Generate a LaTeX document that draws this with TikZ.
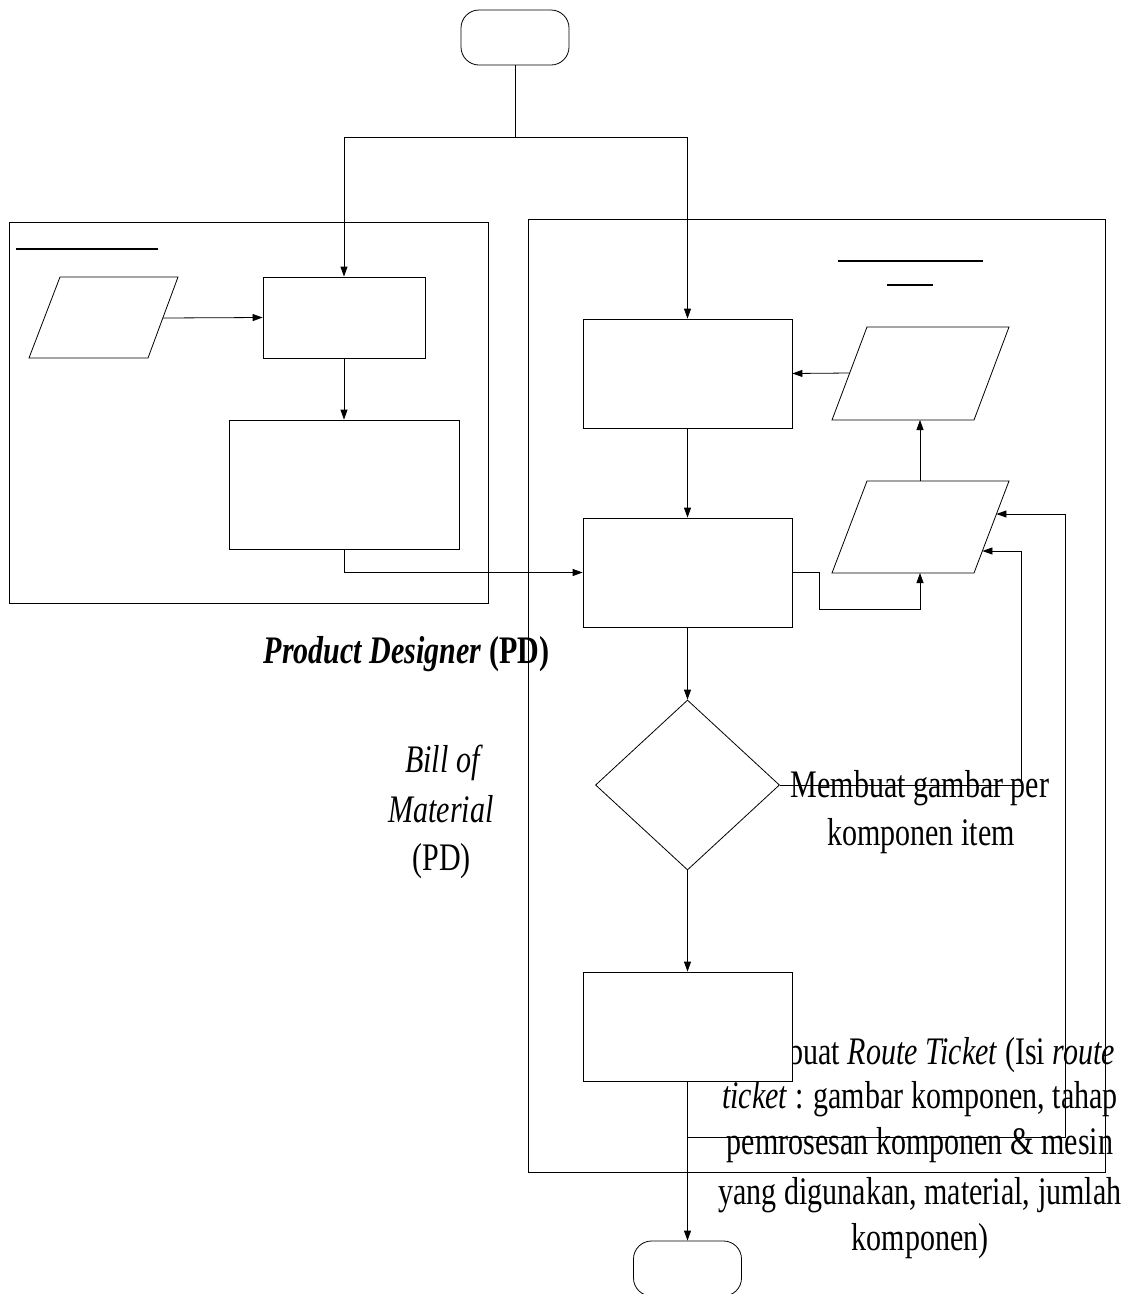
\documentclass[tikz,border=0pt]{standalone}
\usepackage{fontspec}
\setmainfont[FakeStretch=0.77]{Liberation Serif}
\usetikzlibrary{arrows.meta,shapes.geometric}
\begin{document}
\begin{tikzpicture}[x=1pt,y=-1pt,line width=0.8pt,
  box/.style={draw,fill=white,rectangle,inner sep=0pt},
  term/.style={draw,fill=white,rectangle,rounded corners=18pt,inner sep=0pt,minimum width=108pt,minimum height=55pt},
  dec/.style={draw,fill=white,diamond,inner sep=0pt,minimum width=184pt,minimum height=170pt},
  lane/.style={draw,rectangle,inner sep=0pt},
  arr/.style={-{Triangle[length=10pt,width=7pt]}},
  lbl/.style={font=\fontsize{39}{47}\selectfont,inner sep=0pt,anchor=base},
  uline/.style={line width=1.2pt}]
\useasboundingbox (0,0) rectangle (1133,1294);

% texts (drawn first, lines run over them)
\node[lbl] (pd) at (406.5,663) {\textbf{\textit{Product Designer} (PD)}};
\node[lbl] (bom1) at (444,772) {\textit{Bill of}};
\node[lbl] (bom2) at (441,822) {\textit{Material}};
\node[lbl] (bom3) at (441.5,870) {(PD)};
\node[lbl] (g1) at (920,797) {Membuat gambar per};
\node[lbl] (g2) at (921,845) {komponen item};
\node[lbl] (r1) at (920,1064) {Membuat \textit{Route Ticket} (Isi \textit{route}};
\node[lbl] (r2) at (920,1108) {\textit{ticket} : gambar komponen, tahap};
\node[lbl] (r3) at (920,1154) {pemrosesan komponen \& mesin};
\node[lbl] (r4) at (920,1204) {yang digunakan, material, jumlah};
\node[lbl] (r5) at (920,1250) {komponen)};

% swimlanes
\node[lane,minimum width=479pt,minimum height=381pt] (laneL) at (248.5,412.5) {};
\node[lane,minimum width=577pt,minimum height=953pt] (laneR) at (816.5,695.5) {};
\draw[uline] (16,249) -- (158,249);
\draw[uline] (838,261) -- (983,261);
\draw[uline] (887,285) -- (933,285);

% parallelograms
\coordinate (La) at (29,358); \coordinate (Lb) at (148,358);
\coordinate (Lc) at (178,277); \coordinate (Ld) at (60,277);
\coordinate (Lr) at (162.8,318);
\draw[fill=white] (La) -- (Lb) -- (Lc) -- (Ld) -- cycle;

\coordinate (P1a) at (832,420); \coordinate (P1b) at (974,420);
\coordinate (P1c) at (1009,327); \coordinate (P1d) at (867,327);
\coordinate (P1l) at (849.5,373); \coordinate (P1s) at (920,420);
\draw[fill=white] (P1a) -- (P1b) -- (P1c) -- (P1d) -- cycle;

\coordinate (P2a) at (832,573); \coordinate (P2b) at (974,573);
\coordinate (P2c) at (1009,481); \coordinate (P2d) at (867,481);
\coordinate (P2n) at (920,481); \coordinate (P2s) at (920,573);
\coordinate (P2r1) at (996.4,514); \coordinate (P2r2) at (982.4,551);
\draw[fill=white] (P2a) -- (P2b) -- (P2c) -- (P2d) -- cycle;

% nodes
\node[term] (start) at (515,37.5) {};
\node[term] (stop) at (687.5,1268.5) {};
\node[box,minimum width=162pt,minimum height=81pt] (b1) at (344,317.5) {};
\node[box,minimum width=230pt,minimum height=129pt] (b2) at (344,484.5) {};
\node[box,minimum width=209pt,minimum height=109pt] (b3) at (687.5,373.5) {};
\node[box,minimum width=209pt,minimum height=109pt] (b4) at (687.5,572.5) {};
\node[dec] (d) at (687.5,785) {};
\node[box,minimum width=209pt,minimum height=109pt] (b5) at (687.5,1026.5) {};

% connectors
\coordinate (j) at (515,137);
\draw (start.south) -- (j);
\draw[arr] (j) -| (b1.north);
\draw[arr] (j) -| (b3.north);
\draw[arr] (Lr) -- (b1.west);
\draw[arr] (b1.south) -- (b2.north);
\draw[arr] (b2.south) |- (b4.west);
\draw[arr] (P1l) -- (b3.east);
\draw[arr] (b3.south) -- (b4.north);
\draw[arr] (P2n) -- (P1s);
\draw[arr] (b4.east) -- ++(27,0) -- ++(0,36.5) -| (P2s);
\draw[arr] (b4.south) -- (d.north);
\draw[arr] (d.east) -- ++(241,0) |- (P2r2);
\draw[arr] (d.south) -- (b5.north);
\draw[arr] (b5.south) -- (stop.north);
\coordinate (k) at (687.5,1137);
\draw[arr] (k) -- ++(377.5,0) |- (P2r1);
\end{tikzpicture}
\end{document}
